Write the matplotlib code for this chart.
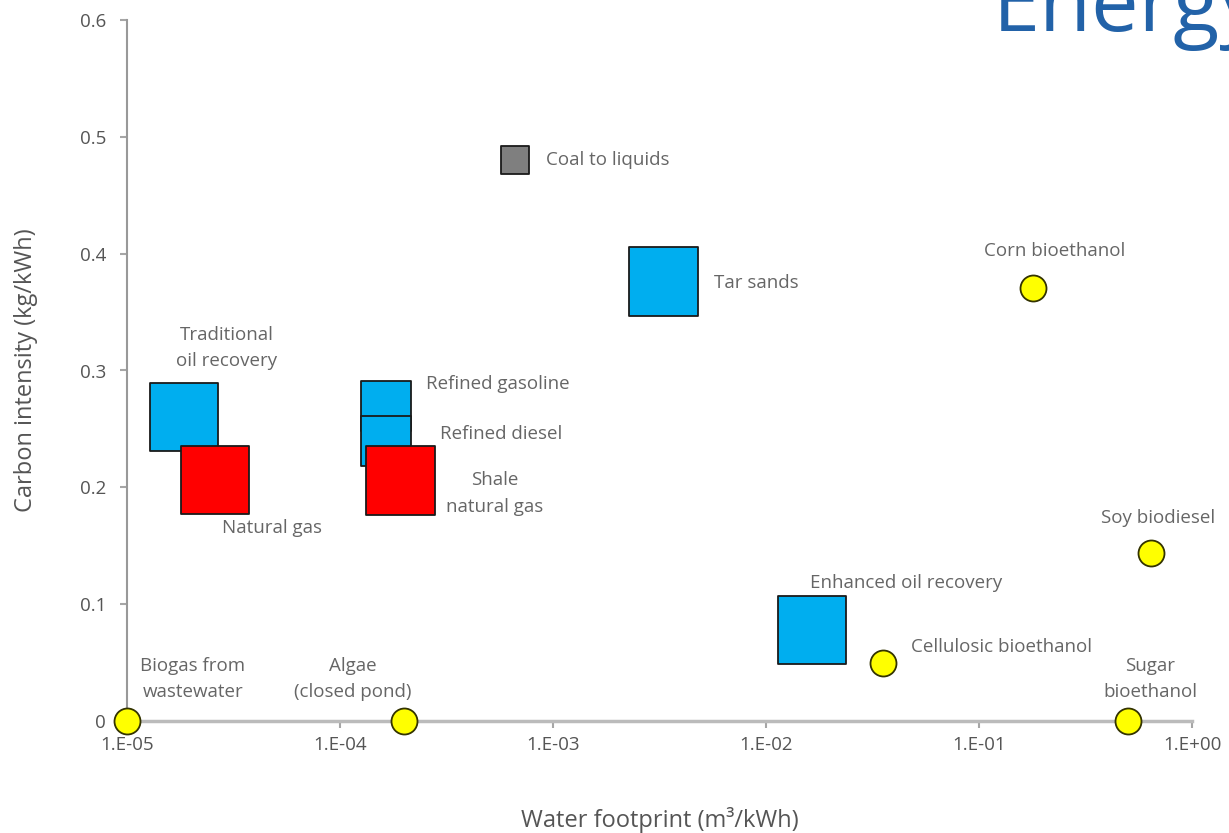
import matplotlib
matplotlib.use("Agg")
import matplotlib.pyplot as plt
from matplotlib.ticker import FixedLocator, FixedFormatter, NullLocator

plt.rcParams['font.family'] = ['Open Sans', 'DejaVu Sans']

# ---------------- data ----------------
sq_names = ["Traditional\noil recovery", "Natural gas", "Refined gasoline", "Refined diesel",
            "Shale\nnatural gas", "Coal to liquids", "Tar sands", "Enhanced oil recovery"]
sq_x = [1.85e-5, 2.6e-5, 1.65e-4, 1.65e-4, 1.92e-4, 6.6e-4, 3.3e-3, 1.65e-2]
sq_y = [0.26, 0.206, 0.27, 0.24, 0.206, 0.48, 0.377, 0.078]
sq_kind = ["oil", "gas", "oil", "oil", "gas", "coal", "oil", "oil"]

circ_names = ["Biogas from\nwastewater", "Algae\n(closed pond)", "Cellulosic bioethanol",
              "Corn bioethanol", "Soy biodiesel", "Sugar\nbioethanol"]
circ_x = [1.0e-5, 2.0e-4, 0.0356, 0.18, 0.64, 0.5]
circ_y = [0.0, 0.0, 0.05, 0.371, 0.144, 0.0]

x_ticks = [1e-5, 1e-4, 1e-3, 1e-2, 1e-1, 1e0]
x_ticklabels = ["1.E-05", "1.E-04", "1.E-03", "1.E-02", "1.E-01", "1.E+00"]
y_ticks = [0, 0.1, 0.2, 0.3, 0.4, 0.5, 0.6]
y_ticklabels = ["0", "0.1", "0.2", "0.3", "0.4", "0.5", "0.6"]

# ---------------- styles ----------------
kind_color = {"oil": "#00AEEF", "gas": "#FF0000", "coal": "#7F7F7F"}
sq_side_px = [68, 68, 50, 50, 69, 28, 69, 68]
# label offsets in pixels (dx right, dy up), alignment
sq_lab = [(43, 69, "center"), (7, -48, "left"), (40, 22, "left"), (54, 7, "left"),
          (94, -13, "center"), (31, 0, "left"), (51, -2, "left"), (-2, 47, "left")]
circ_lab = [(66, 42, "center"), (-51, 42, "center"), (28, 16, "left"),
            (21, 37, "center"), (7, 35, "center"), (22, 42, "center")]

DPI = 100
px2pt = 72.0 / DPI
text_col = "#666666"
axis_col = "#A6A6A6"
lab_fs = 13.5

fig = plt.figure(figsize=(12.29, 8.33), dpi=DPI)
ax = fig.add_axes([127 / 1229, 1 - 721 / 833, (1192 - 127) / 1229, (721 - 20) / 833])
ax.set_xscale("log")
ax.set_xlim(1e-5, 1e0)
ax.set_ylim(0, 0.6)

for sp in ["top", "right"]:
    ax.spines[sp].set_visible(False)
ax.spines["left"].set_color("#999999")
ax.spines["left"].set_linewidth(1.5)
ax.spines["bottom"].set_color("#BBBBBB")
ax.spines["bottom"].set_linewidth(2.5)

ax.xaxis.set_major_locator(FixedLocator(x_ticks))
ax.xaxis.set_major_formatter(FixedFormatter(x_ticklabels))
ax.xaxis.set_minor_locator(NullLocator())
ax.yaxis.set_major_locator(FixedLocator(y_ticks))
ax.yaxis.set_major_formatter(FixedFormatter(y_ticklabels))
ax.tick_params(axis="both", colors=axis_col, labelcolor="#555555", labelsize=13.5,
               length=5, width=1.5, direction="out")
ax.tick_params(axis="x", pad=6)
ax.tick_params(axis="y", pad=10)

ax.set_xlabel("Water footprint (m\u00b3/kWh)", fontsize=17, color="#555555", labelpad=38)
ax.set_ylabel("Carbon intensity (kg/kWh)", fontsize=17, color="#555555", labelpad=30)

# squares
for i in range(len(sq_x)):
    s = (sq_side_px[i] * px2pt) ** 2
    ax.scatter([sq_x[i]], [sq_y[i]], marker="s", s=s, c=kind_color[sq_kind[i]],
               edgecolors="#1a1a1a", linewidths=1.3, zorder=3 + i * 0.01, clip_on=False)
    dx, dy, ha = sq_lab[i]
    ax.annotate(sq_names[i], (sq_x[i], sq_y[i]), xytext=(dx, dy), textcoords="offset pixels",
                ha=ha, va="center", fontsize=lab_fs, color=text_col, linespacing=1.6)

# circles
circ_s = (26 * px2pt) ** 2
ax.scatter(circ_x, circ_y, marker="o", s=circ_s, c="#FFFF00", edgecolors="#333300",
           linewidths=1.3, zorder=4, clip_on=False)
for i in range(len(circ_x)):
    dx, dy, ha = circ_lab[i]
    ax.annotate(circ_names[i], (circ_x[i], circ_y[i]), xytext=(dx, dy), textcoords="offset pixels",
                ha=ha, va="center", fontsize=lab_fs, color=text_col, linespacing=1.6)

fig.text(993 / 1229, 1 - 31 / 833, "Energy", fontsize=61, color="#2262A8",
         ha="left", va="baseline")

fig.savefig("out.png", dpi=DPI)
